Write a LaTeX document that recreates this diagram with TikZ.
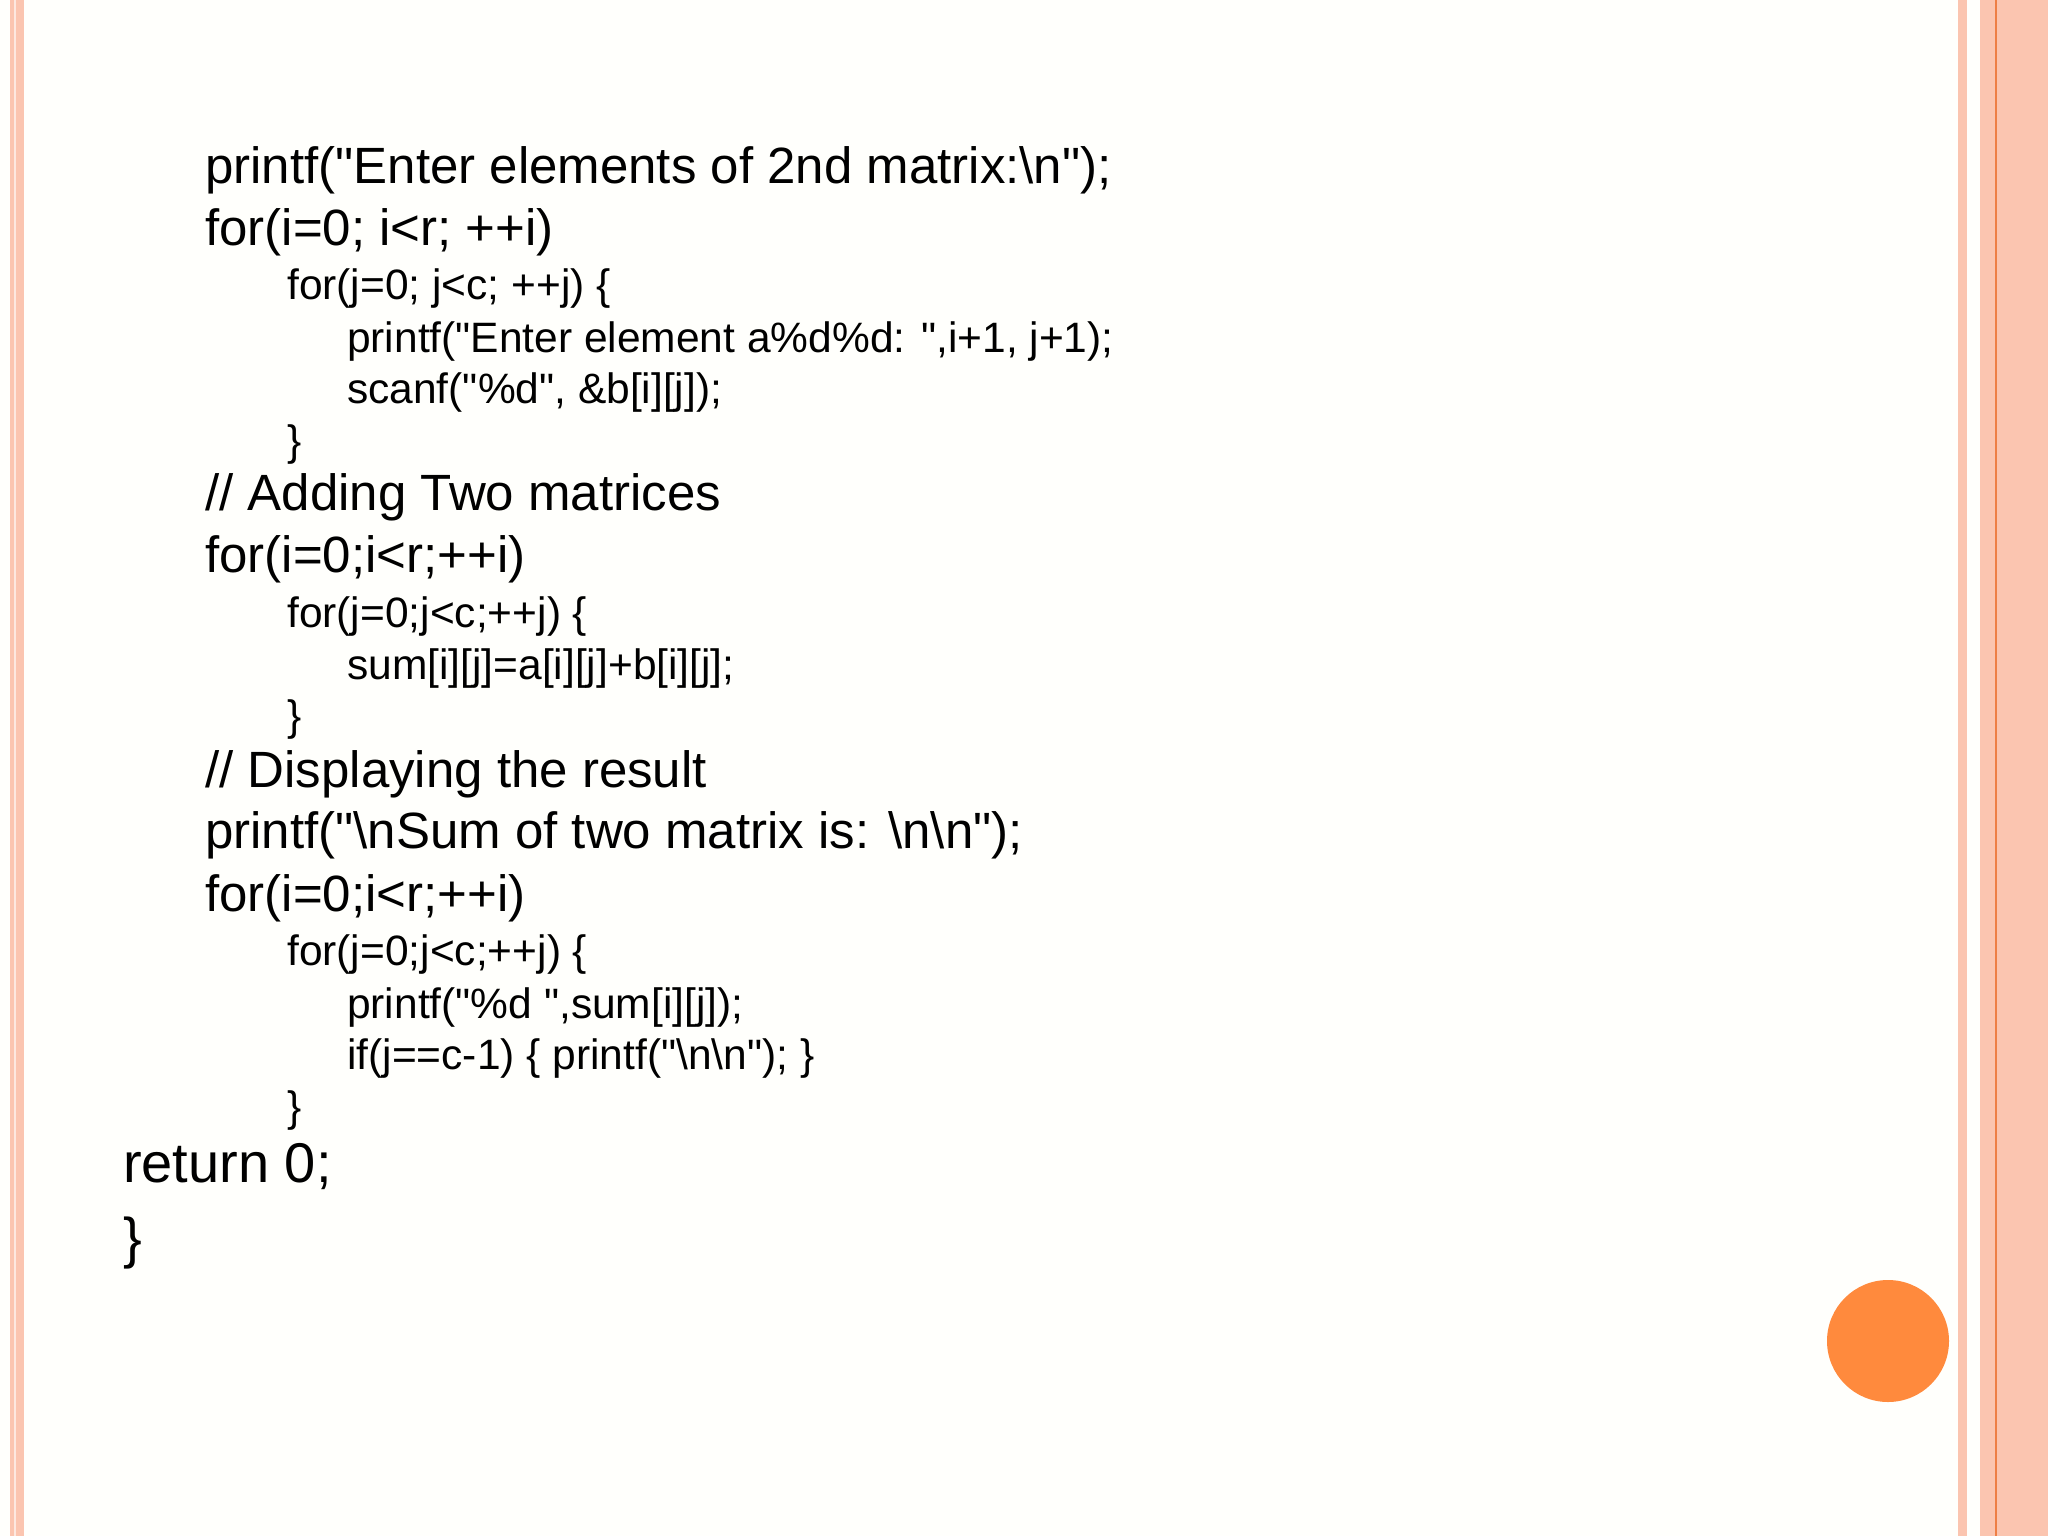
\documentclass[tikz,border=0pt]{standalone}
\usepackage{fontspec}
\setmainfont{Liberation Sans}[Ligatures=TeXOff]
\definecolor{salmon}{HTML}{FBC5B0}
\definecolor{orng}{HTML}{FF8A3D}
\definecolor{oline}{HTML}{EE7F45}
\newcommand{\qq}{\char34\relax}
\begin{document}
\begin{tikzpicture}[x=1pt,y=-1pt,
  big/.style={anchor=west,inner sep=0,font=\fontsize{51}{51}\selectfont,text height=0.75em,text depth=0.22em},
  bigger/.style={anchor=west,inner sep=0,font=\fontsize{56}{56}\selectfont,text height=0.75em,text depth=0.22em},
  small/.style={anchor=west,inner sep=0,font=\fontsize{42.5}{42.5}\selectfont,text height=0.75em,text depth=0.22em}]
\useasboundingbox (0,0) rectangle (2048,1536);
\fill[white!99!yellow] (0,0) rectangle (2048,1536);
% left border
\fill[salmon] (10,0) rectangle (24,1536);
\fill[white!60!salmon] (14,0) rectangle (16,1536);
% right border
\fill[salmon] (1958,0) rectangle (1967,1536);
\fill[salmon] (1980,0) rectangle (2048,1536);
\draw[oline,line width=1.5] (1996,0) -- (1996,1536);
% circle
\fill[orng] (1888,1341) circle (61);
% code
\begin{scope}[yshift=-14]
\node[big] (l1) at (205,167) {printf(\qq Enter elements of 2nd matrix:\textbackslash n\qq);};
\node[big] (l2) at (205,229) {for(i=0; i<r; ++i)};
\node[small] (l3) at (287,283) {for(j=0; j<c; ++j) \{};
\node[small] (l4) at (347,336) {printf(\qq Enter element a\%d\%d: \qq,i+1, j+1);};
\node[small] (l5) at (347,387) {scanf(\qq\%d\qq, \&b[i][j]);};
\node[small] (l6) at (287,439) {\}};
\node[big] (l7) at (205,494) {// Adding Two matrices};
\node[big] (l8) at (205,556) {for(i=0;i<r;++i)};
\node[small] (l9) at (287,611) {for(j=0;j<c;++j) \{};
\node[small] (l10) at (347,663) {sum[i][j]=a[i][j]+b[i][j];};
\node[small] (l11) at (287,714) {\}};
\node[big] (l12) at (205,771) {// Displaying the result};
\node[big] (l13) at (205,832) {printf(\qq\textbackslash nSum of two matrix is: \textbackslash n\textbackslash n\qq);};
\node[big] (l14) at (205,895) {for(i=0;i<r;++i)};
\node[small] (l15) at (287,949) {for(j=0;j<c;++j) \{};
\node[small] (l16) at (347,1002) {printf(\qq\%d \qq,sum[i][j]);};
\node[small] (l17) at (347,1053) {if(j==c-1) \{ printf(\qq\textbackslash n\textbackslash n\qq); \}};
\node[small] (l18) at (287,1105) {\}};
\node[bigger] (l19) at (123,1166) {return 0;};
\node[bigger] (l20) at (123,1241) {\}};
\end{scope}
\end{tikzpicture}
\end{document}
